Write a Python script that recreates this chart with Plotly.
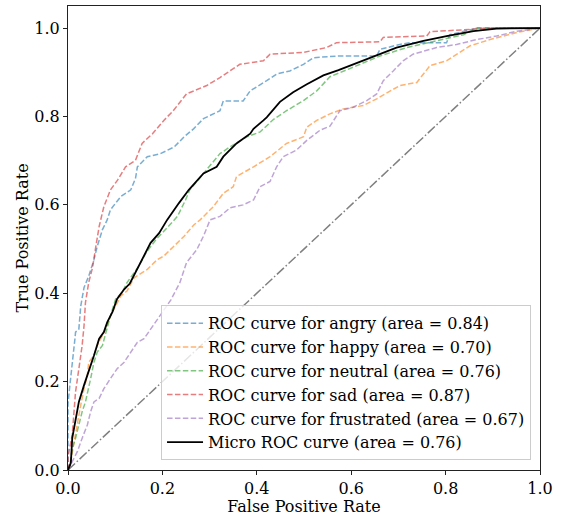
import plotly.graph_objects as go

# ---- data ----
angry_fpr = [0, 0, 0.004, 0.011, 0.015, 0.016, 0.023, 0.027, 0.030, 0.034, 0.044, 0.055, 0.062, 0.073, 0.083, 0.090,
             0.112, 0.133, 0.143, 0.147, 0.168, 0.196, 0.225, 0.246, 0.266, 0.287, 0.322, 0.329, 0.371, 0.386,
             0.421, 0.442, 0.470, 0.499, 0.520, 0.576, 0.654, 0.661, 0.703, 0.725, 0.802, 0.809, 0.866, 1.0]
angry_tpr = [0, 0.15, 0.192, 0.252, 0.30, 0.312, 0.319, 0.371, 0.394, 0.413, 0.439, 0.476, 0.506, 0.544, 0.566, 0.589,
             0.619, 0.634, 0.660, 0.686, 0.709, 0.716, 0.731, 0.754, 0.772, 0.795, 0.813, 0.835, 0.835, 0.858,
             0.881, 0.896, 0.903, 0.918, 0.933, 0.937, 0.937, 0.952, 0.963, 0.967, 0.967, 0.985, 1.0, 1.0]

happy_fpr = [0, 0.006, 0.013, 0.020, 0.027, 0.034, 0.041, 0.044, 0.055, 0.062, 0.069, 0.080, 0.090, 0.101, 0.112,
             0.125, 0.140, 0.168, 0.189, 0.203, 0.225, 0.246, 0.267, 0.280, 0.308, 0.329, 0.350, 0.357, 0.393,
             0.428, 0.463, 0.499, 0.506, 0.527, 0.555, 0.583, 0.626, 0.654, 0.703, 0.739, 0.767, 0.802, 0.852,
             0.894, 0.951, 1.0]
happy_tpr = [0, 0.02, 0.064, 0.109, 0.147, 0.184, 0.214, 0.244, 0.259, 0.282, 0.297, 0.319, 0.349, 0.371, 0.394,
             0.405, 0.435, 0.454, 0.476, 0.484, 0.506, 0.529, 0.555, 0.566, 0.596, 0.626, 0.641, 0.664, 0.686,
             0.709, 0.739, 0.754, 0.776, 0.791, 0.806, 0.817, 0.825, 0.840, 0.870, 0.877, 0.915, 0.926, 0.960,
             0.974, 0.990, 1.0]

neutral_fpr = [0, 0.004, 0.009, 0.016, 0.023, 0.030, 0.037, 0.044, 0.048, 0.055, 0.062, 0.073, 0.080, 0.090, 0.101,
               0.115, 0.125, 0.150, 0.165, 0.186, 0.210, 0.232, 0.249, 0.258, 0.287, 0.322, 0.343, 0.379, 0.407,
               0.435, 0.463, 0.499, 0.527, 0.555, 0.612, 0.661, 0.718, 0.781, 0.838, 0.866, 1.0]
neutral_tpr = [0, 0.01, 0.049, 0.072, 0.102, 0.132, 0.154, 0.184, 0.207, 0.244, 0.267, 0.282, 0.312, 0.349, 0.387,
               0.402, 0.424, 0.461, 0.491, 0.521, 0.548, 0.574, 0.611, 0.634, 0.671, 0.716, 0.731, 0.754, 0.765,
               0.793, 0.813, 0.836, 0.858, 0.890, 0.915, 0.937, 0.956, 0.971, 0.985, 1.0, 1.0]

sad_fpr = [0, 0, 0.009, 0.013, 0.016, 0.023, 0.030, 0.034, 0.037, 0.044, 0.052, 0.059, 0.066, 0.076, 0.090, 0.105,
           0.122, 0.143, 0.157, 0.179, 0.203, 0.223, 0.251, 0.294, 0.322, 0.364, 0.414, 0.428, 0.499, 0.548,
           0.569, 0.661, 0.668, 0.760, 0.767, 0.852, 0.908, 1.0]
sad_tpr = [0, 0.03, 0.08, 0.13, 0.177, 0.229, 0.282, 0.327, 0.379, 0.425, 0.458, 0.506, 0.551, 0.596, 0.634, 0.656,
           0.686, 0.701, 0.739, 0.761, 0.791, 0.813, 0.851, 0.870, 0.888, 0.918, 0.926, 0.941, 0.945, 0.956,
           0.967, 0.969, 0.979, 0.982, 0.992, 0.997, 1.0, 1.0]

frustrated_fpr = [0, 0.006, 0.020, 0.030, 0.041, 0.048, 0.055, 0.066, 0.076, 0.090, 0.104, 0.119, 0.133, 0.147,
                  0.161, 0.175, 0.189, 0.203, 0.218, 0.237, 0.251, 0.273, 0.287, 0.301, 0.322, 0.343, 0.371, 0.393,
                  0.407, 0.428, 0.442, 0.456, 0.484, 0.506, 0.534, 0.555, 0.576, 0.604, 0.633, 0.654, 0.668, 0.689,
                  0.710, 0.731, 0.753, 0.781, 0.823, 0.866, 0.908, 0.951, 1.0]
frustrated_tpr = [0, 0.012, 0.042, 0.072, 0.102, 0.132, 0.154, 0.162, 0.184, 0.207, 0.229, 0.244, 0.267, 0.289,
                  0.297, 0.319, 0.342, 0.364, 0.385, 0.424, 0.469, 0.499, 0.529, 0.566, 0.574, 0.593, 0.600, 0.611,
                  0.641, 0.653, 0.686, 0.709, 0.724, 0.746, 0.769, 0.778, 0.813, 0.821, 0.836, 0.851, 0.881, 0.903,
                  0.926, 0.941, 0.948, 0.956, 0.963, 0.974, 0.982, 0.993, 1.0]

micro_fpr = [0, 0.006, 0.009, 0.016, 0.023, 0.034, 0.044, 0.055, 0.066, 0.076, 0.083, 0.094, 0.104, 0.119, 0.131,
             0.143, 0.157, 0.175, 0.193, 0.210, 0.235, 0.256, 0.287, 0.315, 0.329, 0.357, 0.386, 0.393, 0.414,
             0.421, 0.449, 0.477, 0.506, 0.541, 0.573, 0.597, 0.640, 0.696, 0.753, 0.802, 0.859, 0.908, 1.0]
micro_tpr = [0, 0.016, 0.072, 0.117, 0.154, 0.192, 0.222, 0.259, 0.297, 0.312, 0.334, 0.357, 0.387, 0.409, 0.422,
             0.447, 0.476, 0.514, 0.536, 0.566, 0.604, 0.634, 0.671, 0.686, 0.709, 0.739, 0.761, 0.772, 0.791,
             0.798, 0.833, 0.855, 0.873, 0.893, 0.905, 0.915, 0.933, 0.956, 0.971, 0.982, 0.993, 0.999, 1.0]

chance_x = [0, 1]
chance_y = [0, 1]

class_names = ["angry", "happy", "neutral", "sad", "frustrated"]
class_auc = ["0.84", "0.70", "0.76", "0.87", "0.67"]
micro_auc = "0.76"
class_colors = ["rgba(31,119,180,0.6)", "rgba(255,127,14,0.6)", "rgba(44,160,44,0.6)",
                "rgba(214,39,40,0.6)", "rgba(148,103,189,0.6)"]

x_ticks = [0.0, 0.2, 0.4, 0.6, 0.8, 1.0]
y_ticks = [0.0, 0.2, 0.4, 0.6, 0.8, 1.0]

curves = [(angry_fpr, angry_tpr), (happy_fpr, happy_tpr), (neutral_fpr, neutral_tpr),
          (sad_fpr, sad_tpr), (frustrated_fpr, frustrated_tpr)]

FONT = "DejaVu Serif"
FS = 16
fig = go.Figure()

fig.add_trace(go.Scatter(x=chance_x, y=chance_y, mode="lines", showlegend=False,
                         line=dict(color="gray", width=1.5, dash="9.6px,2.4px,1.5px,2.4px")))

for i, (fx, ty) in enumerate(curves):
    fig.add_trace(go.Scatter(
        x=fx, y=ty, mode="lines",
        name=f"ROC curve for {class_names[i]} (area = {class_auc[i]})",
        line=dict(color=class_colors[i], width=1.5, dash="5.5px,2.4px"),
    ))

fig.add_trace(go.Scatter(x=micro_fpr, y=micro_tpr, mode="lines",
                         name=f"Micro ROC curve (area = {micro_auc})",
                         line=dict(color="black", width=1.8)))

axis_common = dict(showgrid=False, zeroline=False, showline=True, linecolor="#222", linewidth=1,
                   mirror=True, ticks="outside", ticklen=4, tickcolor="#222",
                   tickfont=dict(family=FONT, size=FS, color="black"))

fig.update_xaxes(range=[0, 1], tickvals=x_ticks, ticktext=[f"{v:.1f}" for v in x_ticks],
                 title=dict(text="False Positive Rate", font=dict(family=FONT, size=FS, color="black"), standoff=2),
                 **axis_common)
fig.update_yaxes(range=[0, 1.05], tickvals=y_ticks, ticktext=[f"{v:.1f}" for v in y_ticks],
                 title=dict(text="True Positive Rate", font=dict(family=FONT, size=FS, color="black"), standoff=1),
                 **axis_common)

fig.update_layout(
    width=562, height=516,
    margin=dict(l=68, r=22, t=5, b=44),
    plot_bgcolor="white", paper_bgcolor="white",
    font=dict(family=FONT, size=FS, color="black"),
    legend=dict(x=0.981, y=0.021, xanchor="right", yanchor="bottom",
                bgcolor="rgba(255,255,255,0.8)", bordercolor="#ccc", borderwidth=1,
                font=dict(family=FONT, size=FS, color="black"), itemwidth=36),
)

fig.write_html("out.html")
